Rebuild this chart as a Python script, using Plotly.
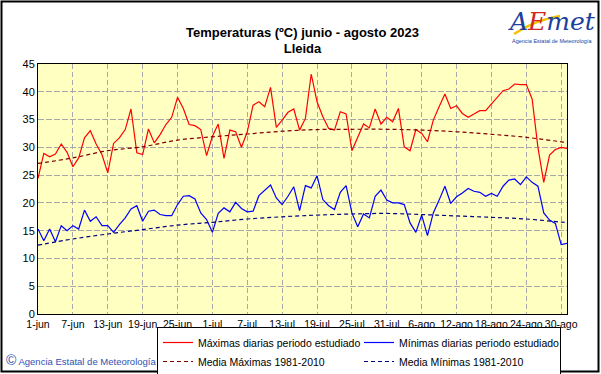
import plotly.graph_objects as go
import pandas as pd

# ---------------- data ----------------
dates = pd.date_range("2023-06-01", "2023-08-31", freq="D")

tmax = [24.4, 28.9, 28.3, 28.8, 30.6, 29.1, 26.5, 28.1, 31.7, 33.0,
        30.6, 28.7, 25.4, 30.7, 31.7, 33.2, 36.9, 29.0, 28.7, 33.3,
        30.8, 32.3, 34.1, 35.4, 39.0, 37.0, 34.1, 33.9, 33.2, 28.5,
        32.0, 34.2, 28.0, 33.1, 32.8, 30.0, 32.8, 37.6, 38.2, 37.3,
        40.8, 33.6, 34.9, 36.3, 36.9, 33.1, 35.2, 43.2, 38.2, 35.5,
        33.4, 33.1, 36.4, 36.0, 29.4, 31.9, 34.2, 33.5, 36.9, 34.2,
        35.4, 34.6, 37.0, 30.1, 29.4, 33.2, 32.5, 31.0, 34.9, 37.3,
        39.6, 37.0, 37.5, 36.1, 35.4, 36.0, 36.6, 36.6, 37.8, 39.0,
        40.2, 40.5, 41.4, 41.3, 41.3, 38.7, 30.0, 23.7, 28.6, 29.6,
        30.0, 29.8]

tmin = [15.3, 13.2, 15.3, 13.0, 15.9, 15.0, 15.9, 15.3, 18.7, 16.7,
        17.5, 15.9, 15.9, 14.7, 16.1, 17.3, 18.9, 19.5, 16.7, 18.5,
        18.7, 17.9, 17.7, 17.7, 19.7, 21.2, 21.3, 20.7, 18.2, 17.0,
        14.7, 18.1, 19.1, 18.4, 20.1, 19.0, 18.4, 18.5, 21.3, 22.3,
        23.2, 20.9, 19.7, 21.2, 22.9, 18.6, 23.1, 22.7, 24.9, 20.6,
        19.5, 18.8, 21.9, 23.1, 18.2, 15.7, 18.0, 17.3, 21.2, 22.3,
        20.5, 20.0, 20.0, 19.7, 16.4, 14.7, 17.8, 14.1, 18.2, 20.5,
        23.0, 19.9, 21.1, 21.8, 22.6, 22.1, 21.9, 21.2, 21.7, 21.2,
        23.0, 24.1, 24.3, 23.3, 24.7, 23.7, 23.0, 18.2, 16.9, 16.3,
        12.5, 12.7]

mean_dates = ["2023-06-01", "2023-06-07", "2023-06-13", "2023-06-19", "2023-06-25",
              "2023-07-01", "2023-07-07", "2023-07-13", "2023-07-19", "2023-07-25",
              "2023-07-31", "2023-08-06", "2023-08-12", "2023-08-18", "2023-08-24",
              "2023-08-30", "2023-08-31"]
mean_max = [27.1, 28.1, 29.4, 30.1, 31.3, 31.9, 32.4, 32.9, 33.2, 33.25,
            33.25, 33.1, 32.8, 32.35, 31.8, 31.0, 30.9]
mean_min = [12.4, 13.5, 14.4, 15.2, 16.0, 16.5, 17.1, 17.5, 17.8, 18.0,
            18.1, 17.9, 17.65, 17.4, 17.1, 16.55, 16.5]

tick_dates = mean_dates[:-1]
tick_labels = ["1-jun", "7-jun", "13-jun", "19-jun", "25-jun", "1-jul", "7-jul",
               "13-jul", "19-jul", "25-jul", "31-jul", "6-ago", "12-ago", "18-ago",
               "24-ago", "30-ago"]
y_ticks = [0, 5, 10, 15, 20, 25, 30, 35, 40, 45]

series_names = ["Máximas diarias periodo estudiado", "Mínimas diarias periodo estudiado",
                "Media Máximas 1981-2010", "Media Mínimas 1981-2010"]

# ---------------- layout helpers ----------------
W, H = 601, 374
L, R, T, B = 38, 34, 64, 60
PW, PH = W - L - R, H - T - B


def px(x):
    return (x - L) / PW


def py(y):
    return (H - B - y) / PH


FONT = "Liberation Sans, Arial, sans-serif"

fig = go.Figure()
fig.add_trace(go.Scatter(x=dates, y=tmax, mode="lines", name=series_names[0],
                         line=dict(color="#FF0000", width=1.2)))
fig.add_trace(go.Scatter(x=dates, y=tmin, mode="lines", name=series_names[1],
                         line=dict(color="#0000FF", width=1.2)))
fig.add_trace(go.Scatter(x=pd.to_datetime(mean_dates), y=mean_max, mode="lines",
                         name=series_names[2], line_shape="spline",
                         line=dict(color="#800000", width=1.2, dash="4px,3px")))
fig.add_trace(go.Scatter(x=pd.to_datetime(mean_dates), y=mean_min, mode="lines",
                         name=series_names[3], line_shape="spline",
                         line=dict(color="#000080", width=1.2, dash="4px,3px")))

fig.update_layout(
    width=W, height=H,
    margin=dict(l=L, r=R, t=T, b=B, pad=0, autoexpand=False),
    paper_bgcolor="white",
    plot_bgcolor="#FFFFC2",
    font=dict(family=FONT, size=11, color="black"),
    title=dict(text="<b>Temperaturas (ºC) junio - agosto 2023<br>Lleida</b>",
               x=0.5, xref="paper", y=1 - 36.5 / H, yref="container",
               xanchor="center", yanchor="middle",
               font=dict(family=FONT, size=13, color="black")),
    showlegend=True,
    legend=dict(orientation="h", x=px(157), xanchor="left", y=py(327), yanchor="top",
                bgcolor="white", bordercolor="black", borderwidth=1,
                font=dict(family=FONT, size=10.5, color="black"),
                entrywidth=156, entrywidthmode="pixels", tracegroupgap=0,
                itemwidth=30),
    xaxis=dict(type="date", range=[dates[0], dates[-1]],
               tickmode="array", tickvals=pd.to_datetime(tick_dates), ticktext=tick_labels,
               tickangle=0, ticks="", showgrid=True, gridcolor="#A8A8A8", gridwidth=1,
               griddash="5px,3px", showline=True, linecolor="black", linewidth=1,
               mirror=True, zeroline=False,
               tickfont=dict(family=FONT, size=10.5, color="black")),
    yaxis=dict(range=[0, 45], tickmode="array", tickvals=y_ticks,
               ticks="", showgrid=True, gridcolor="#A8A8A8", gridwidth=1,
               griddash="6px,2px", showline=True, linecolor="black", linewidth=1,
               mirror=True, zeroline=False,
               tickfont=dict(family=FONT, size=11, color="black")),
)

annotations = [
    dict(text="<span style='font-size:14px'>©</span> Agencia Estatal de Meteorología",
         x=px(4), y=py(360), xref="paper", yref="paper", xanchor="left", yanchor="middle",
         showarrow=False, font=dict(family=FONT, size=9.5, color="#3050B0")),
    dict(text="<i><span style='color:#1C3F9E'>A</span><span style='color:#D0281E'>E</span>"
              "<span style='color:#1C3F9E'>met</span></i>",
         x=px(552), y=py(21), xref="paper", yref="paper", xanchor="center", yanchor="middle",
         showarrow=False, font=dict(family="DejaVu Serif, serif", size=25)),
    dict(text="Agencia Estatal de Meteorología",
         x=px(552), y=py(41), xref="paper", yref="paper", xanchor="center", yanchor="middle",
         showarrow=False, font=dict(family=FONT, size=5.5, color="#1C3F9E")),
]
fig.update_layout(annotations=annotations)

# yellow swoosh of the logo
sx = [px(v) for v in (514, 535, 560)]
sy = [py(v) for v in (34, 20, 16)]
fig.add_shape(type="path", xref="paper", yref="paper",
              path=f"M {sx[0]},{sy[0]} Q {sx[1]},{sy[1]} {sx[2]},{sy[2]}",
              line=dict(color="#F2C200", width=2.5), layer="below")

fig.add_shape(type="rect", xref="paper", yref="paper",
              x0=px(1.5), x1=px(598.5), y0=py(371.5), y1=py(1.5),
              line=dict(color="black", width=2), fillcolor="rgba(0,0,0,0)", layer="above")

fig.write_html("out.html", config={"displayModeBar": False},
               post_script="document.body.style.margin='0';document.body.style.padding='0';"
                           "document.body.style.overflow='hidden';")
